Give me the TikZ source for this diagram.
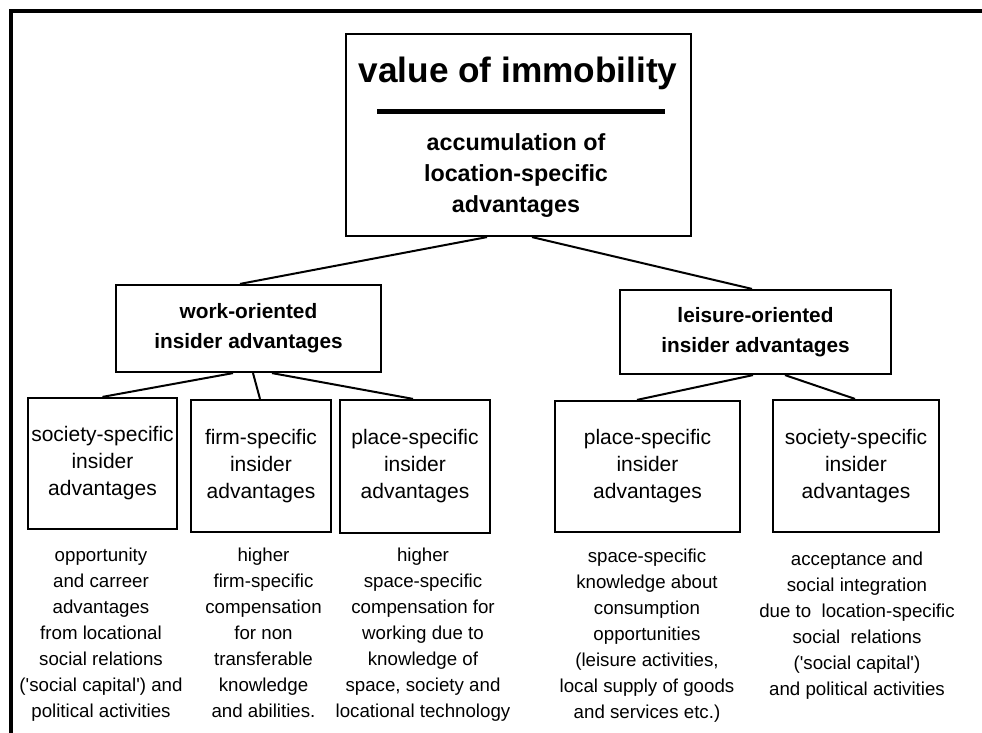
\documentclass[tikz,border=0pt]{standalone}
\usepackage{fontspec}
\setmainfont{Liberation Sans}
\begin{document}
\begin{tikzpicture}[x=0.5pt,y=-0.5pt,
	box/.style={draw,line width=1.1pt,inner sep=0pt,align=center,font=\fontsize{10.5}{13.5}\selectfont},
	headbox/.style={box,font=\fontsize{10.4}{15}\selectfont\bfseries},
	desc/.style={anchor=north,inner sep=0pt,align=center,font=\fontsize{9.35}{13}\selectfont},
	link/.style={line width=1pt}]
	\useasboundingbox (0,0) rectangle (982,733);
	\draw[line width=2pt] (11,733)--(11,11)--(982,11);
	\node[box,minimum width=172.5pt,minimum height=101pt] (value) at (518.5,135) {};
	\node[anchor=base,inner sep=0pt,font=\fontsize{17.6}{20}\selectfont\bfseries] (title) at (518,83) {value of immobility};
	\draw[line width=2.5pt] (377,112)--(665,112);
	\node[anchor=north,inner sep=0pt,align=center,font=\fontsize{11.65}{15.5}\selectfont\bfseries] (accum) at (516,133) {accumulation of\\location-specific\\advantages};
	\node[headbox,minimum width=132.5pt,minimum height=43.5pt] (work) at (248.5,328.5) {work-oriented\\insider advantages};
	\node[headbox,minimum width=135.5pt,minimum height=42pt] (leisure) at (755.5,332) {leisure-oriented\\insider advantages};
	\node[box,minimum width=74.5pt,minimum height=65.5pt] (socL) at (102.5,463.5) {society-specific\\insider\\advantages};
	\node[box,minimum width=70pt,minimum height=66pt] (firm) at (261,466) {firm-specific\\insider\\advantages};
	\node[box,minimum width=75pt,minimum height=66.5pt] (placeL) at (415,466.5) {place-specific\\insider\\advantages};
	\node[box,minimum width=92.5pt,minimum height=65.5pt] (placeR) at (647.5,466.5) {place-specific\\insider\\advantages};
	\node[box,minimum width=83pt,minimum height=66pt] (socR) at (856,466) {society-specific\\insider\\advantages};
	\draw[link] ([xshift=-15.75pt]value.south)--([xshift=-4.25pt]work.north);
	\draw[link] ([xshift=6.75pt]value.south)--([xshift=-1.75pt]leisure.north);
	\draw[link] ([xshift=-7.75pt]work.south)--(socL.north);
	\draw[link] ([xshift=2.25pt]work.south)--([xshift=-0.5pt]firm.north);
	\draw[link] ([xshift=11.75pt]work.south)--([xshift=-1pt]placeL.north);
	\draw[link] ([xshift=-1.25pt]leisure.south)--([xshift=-5.25pt]placeR.north);
	\draw[link] ([xshift=14.75pt]leisure.south)--([xshift=-0.5pt]socR.north);
	\node[desc] (dsocL) at (101,548) {opportunity\\and carreer\\advantages\\from locational\\social relations\\(\textquotesingle social capital\textquotesingle) and\\political activities};
	\node[desc] (dfirm) at (263.5,548) {higher\\firm-specific\\compensation\\for non\\transferable\\knowledge\\and abilities.};
	\node[desc] (dplaceL) at (423,548) {higher\\space-specific\\compensation for\\working due to\\knowledge of\\space, society and\\locational technology};
	\node[desc] (dplaceR) at (647,549) {space-specific\\knowledge about\\consumption\\opportunities\\(leisure activities,\\local supply of goods\\and services etc.)};
	\node[desc] (dsocR) at (857,552) {acceptance and\\social integration\\due to\ \ location-specific\\social\ \ relations\\(\textquotesingle social capital\textquotesingle)\\and political activities};
\end{tikzpicture}
\end{document}
